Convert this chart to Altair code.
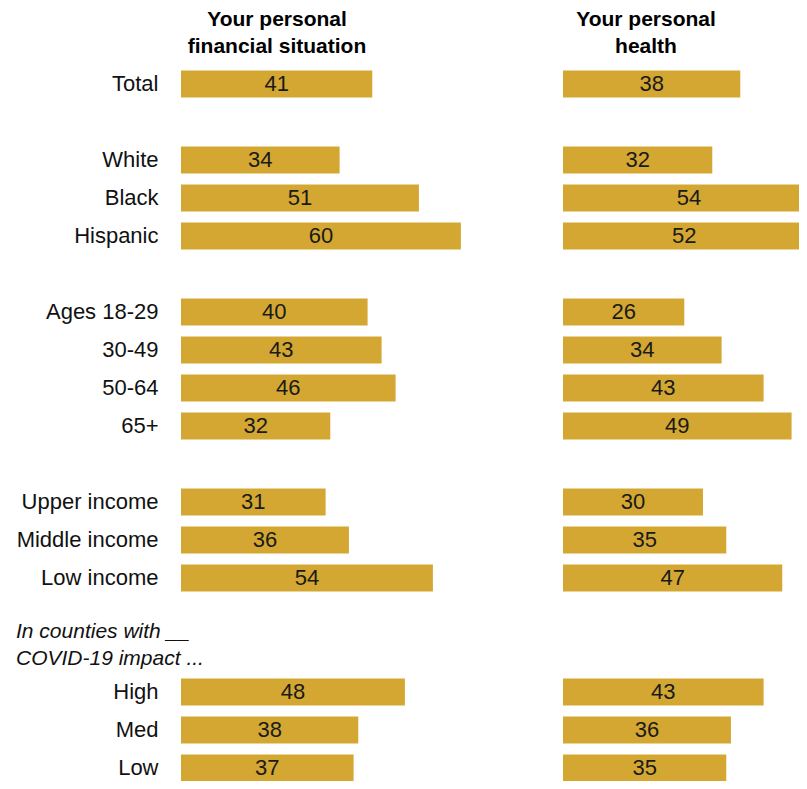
import altair as alt
import pandas as pd

categories = ["Total", "White", "Black", "Hispanic", "Ages 18-29", "30-49", "50-64", "65+",
              "Upper income", "Middle income", "Low income", "High", "Med", "Low"]
financial = [41, 34, 51, 60, 40, 43, 46, 32, 31, 36, 54, 48, 38, 37]
health = [38, 32, 54, 52, 26, 34, 43, 49, 30, 35, 47, 43, 36, 35]

slots = ["Total", " ", "White", "Black", "Hispanic", "  ", "Ages 18-29", "30-49", "50-64", "65+",
         "   ", "Upper income", "Middle income", "Low income", "    ", "     ", "High", "Med", "Low"]

title_left = ["Your personal", "financial situation"]
title_right = ["Your personal", "health"]
note_lines = ["In counties with __", "COVID-19 impact ..."]

FONT = "Liberation Sans"
BAR = "#D3A731"
PXU = 4.665
STEP = 38.0
FULL_H = STEP * len(slots)
PAD_L = 173
PAD_T = 57
H = 773 - PAD_T
W1 = 300
W2 = 236
GAP = 82


def text_line(txt, x, y, **kw):
    return alt.Chart(pd.DataFrame({"t": [txt]})).mark_text(
        fontSize=21, font=FONT, baseline="middle", **kw).encode(
        x=alt.value(x), y=alt.value(y), text="t:N")


def panel(values, width, show_axis, title_lines, title_x):
    df = pd.DataFrame({"cat": categories, "value": values})
    yscale = alt.Scale(domain=slots, range=[0, FULL_H], paddingInner=0, paddingOuter=0)
    axis = alt.Axis(title=None, labelFontSize=22, labelFont=FONT, labelColor="#111",
                    labelPadding=23, ticks=False, domain=False) if show_axis else None
    xscale = alt.Scale(domain=[0, width / PXU], nice=False, zero=True)
    base = alt.Chart(df)
    bars = base.mark_bar(color=BAR, height=27, clip=True).encode(
        x=alt.X("value:Q", scale=xscale, axis=None),
        y=alt.Y("cat:N", sort=slots, scale=yscale, axis=axis))
    labels = base.transform_calculate(half="datum.value/2").mark_text(
        fontSize=22, font=FONT, color="#1a1a1a", baseline="middle", align="center").encode(
        x=alt.X("half:Q", scale=xscale, axis=None),
        y=alt.Y("cat:N", sort=slots, scale=yscale, axis=axis),
        text="value:Q")
    layers = [bars, labels]
    for i, t in enumerate(title_lines):
        layers.append(text_line(t, title_x, -45 + 27 * i, fontWeight="bold", color="#000",
                                align="center"))
    if show_axis:
        for i, t in enumerate(note_lines):
            layers.append(text_line(t, -165, 567 + 27 * i, fontStyle="italic", color="#111",
                                    align="left"))
    return alt.layer(*layers).properties(width=width, height=H)


left = panel(financial, W1, True, title_left, 96)
right = panel(health, W2, False, title_right, 83)

chart = alt.hconcat(left, right, spacing=GAP).properties(
    autosize=alt.AutoSizeParams(type="none"),
    padding={"left": PAD_L, "top": PAD_T, "right": W1 + GAP + W2, "bottom": 0}
).configure_view(stroke=None).configure_axis(grid=False)

chart.save("out.html", embed_options={"renderer": "svg", "actions": False})
